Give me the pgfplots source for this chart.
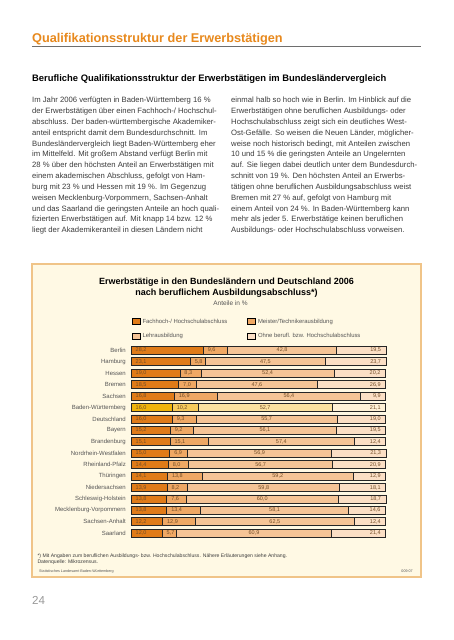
\documentclass[border=0pt]{standalone}
\usepackage{pgfplots}
\pgfplotsset{compat=1.18}
\usepackage{pgfplotstable}
\usepackage{fontspec}
\setmainfont{Liberation Sans}

\definecolor{orangeT}{RGB}{232,137,29}
\definecolor{cA}{RGB}{224,123,24}
\definecolor{cB}{RGB}{239,168,100}
\definecolor{cC}{RGB}{245,196,150}
\definecolor{cD}{RGB}{251,223,197}
\definecolor{yA}{RGB}{240,180,10}
\definecolor{yB}{RGB}{246,203,92}
\definecolor{yC}{RGB}{252,226,160}
\definecolor{yD}{RGB}{254,241,214}
\definecolor{boxbg}{RGB}{255,249,228}
\definecolor{boxline}{RGB}{240,196,136}
\definecolor{txt}{RGB}{60,60,60}
\definecolor{lab}{RGB}{85,85,85}
\definecolor{val}{RGB}{115,78,40}
\definecolor{rule}{RGB}{110,110,110}

\pgfplotstableread{
y a b c d
0 28.2 9.6 42.8 19.5
1 23.1 5.8 47.5 23.7
2 19.0 8.3 52.4 20.2
3 18.5 7.0 47.6 26.9
4 16.8 16.9 56.4 9.9
5 16.0 10.2 52.7 21.1
6 16.0 9.3 55.7 19.0
7 15.2 9.2 56.1 19.5
8 15.1 15.1 57.4 12.4
9 15.0 6.9 56.9 21.3
10 14.4 8.0 56.7 20.9
11 14.1 13.8 59.2 12.9
12 13.9 8.2 59.8 18.1
13 13.8 7.6 60.0 18.7
14 13.8 13.4 58.1 14.6
15 12.2 12.9 62.5 12.4
16 12.0 5.7 60.9 21.4
}\data

\pgfplotsset{chartax/.style={
  scale only axis, width=254pt, height=194.4pt,
  at={(131.7pt,-344.6pt)}, anchor=north west,
  xmin=0, xmax=100, ymin=-0.5, ymax=16.5, y dir=reverse,
  axis line style={draw=none}, tick style={draw=none},
  xtick=\empty, ytick=\empty, clip=false,
  /pgf/number format/.cd, use comma, fixed, fixed zerofill, precision=1, assume math mode=true,
}}
\pgfplotsset{barsty/.style={draw=black!85, line width=0.8pt}}
\pgfplotsset{valsty/.style={draw=none, mark=none,
  every node near coord/.append style={anchor=center, inner sep=0pt, font=\fontsize{5.5}{6}\selectfont, text=val}}}

\newcommand{\bodyfont}{\fontsize{7.7}{9}\selectfont}

\begin{document}
\begin{tikzpicture}
\fill[white] (0pt,0pt) rectangle (453pt,-640pt);
\useasboundingbox (0pt,0pt) rectangle (453pt,-640pt);

% page title
\node[anchor=base west, inner sep=0pt, font=\fontsize{12.7}{14}\selectfont\bfseries, text=orangeT] at (32pt,-42.8pt) {Qualifikationsstruktur der Erwerbstätigen};
\draw[rule, line width=1.3pt] (32pt,-46.7pt) -- (421pt,-46.7pt);
\node[anchor=base west, inner sep=0pt, font=\fontsize{9.4}{11}\selectfont\bfseries, text=black] at (32pt,-81.7pt) {Berufliche Qualifikationsstruktur der Erwerbstätigen im Bundesländervergleich};

% body text
\foreach \t [count=\i from 0] in {
{Im Jahr 2006 verfügten in Baden-Württemberg 16 \%},
{der Erwerbstätigen über einen Fachhoch-/ Hochschul-},
{abschluss. Der baden-württembergische Akademiker-},
{anteil entspricht damit dem Bundesdurchschnitt. Im},
{Bundesländervergleich liegt Baden-Württemberg eher},
{im Mittelfeld. Mit großem Abstand verfügt Berlin mit},
{28 \% über den höchsten Anteil an Erwerbstätigen mit},
{einem akademischen Abschluss, gefolgt von Ham-},
{burg mit 23 \% und Hessen mit 19 \%. Im Gegenzug},
{weisen Mecklenburg-Vorpommern, Sachsen-Anhalt},
{und das Saarland die geringsten Anteile an hoch quali-},
{fizierten Erwerbstätigen auf. Mit knapp 14 bzw. 12 \%},
{liegt der Akademikeranteil in diesen Ländern nicht}}{
  \pgfmathsetmacro\yy{-102.8-10.833*\i}
  \node[anchor=base west, inner sep=0pt, font=\bodyfont, text=txt] at (32pt,\yy pt) {\t};
}
\foreach \t [count=\i from 0] in {
{einmal halb so hoch wie in Berlin. Im Hinblick auf die},
{Erwerbstätigen ohne beruflichen Ausbildungs- oder},
{Hochschulabschluss zeigt sich ein deutliches West-},
{Ost-Gefälle. So weisen die Neuen Länder, möglicher-},
{weise noch historisch bedingt, mit Anteilen zwischen},
{10 und 15 \% die geringsten Anteile an Ungelernten},
{auf. Sie liegen dabei deutlich unter dem Bundesdurch-},
{schnitt von 19 \%. Den höchsten Anteil an Erwerbs-},
{tätigen ohne beruflichen Ausbildungsabschluss weist},
{Bremen mit 27 \% auf, gefolgt von Hamburg mit},
{einem Anteil von 24 \%. In Baden-Württemberg kann},
{mehr als jeder 5. Erwerbstätige keinen beruflichen},
{Ausbildungs- oder Hochschulabschluss vorweisen.}}{
  \pgfmathsetmacro\yy{-102.8-10.833*\i}
  \node[anchor=base west, inner sep=0pt, font=\bodyfont, text=txt] at (231pt,\yy pt) {\t};
}

% chart box
\filldraw[fill=boxbg, draw=boxline, line width=1.2pt] (32pt,-264pt) rectangle (421pt,-577pt);
\node[anchor=base, inner sep=0pt, font=\fontsize{9}{10}\selectfont\bfseries, text=black] at (226.5pt,-284.9pt) {Erwerbstätige in den Bundesländern und Deutschland 2006};
\node[anchor=base, inner sep=0pt, font=\fontsize{9}{10}\selectfont\bfseries, text=black] at (226.5pt,-295.9pt) {nach beruflichem Ausbildungsabschluss*)};
\node[anchor=base, inner sep=0pt, font=\fontsize{6.5}{7}\selectfont, text=lab] at (230.5pt,-305.6pt) {Anteile in \%};

% main bars
\begin{axis}[chartax, xbar stacked, bar width=8pt,
  ytick={0,...,16},
  yticklabels={Berlin,Hamburg,Hessen,Bremen,Sachsen,Baden-Württemberg,Deutschland,Bayern,Brandenburg,Nordrhein-Westfalen,Rheinland-Pfalz,Thüringen,Niedersachsen,Schleswig-Holstein,Mecklenburg-Vorpommern,Sachsen-Anhalt,Saarland},
  yticklabel style={font=\fontsize{6}{7}\selectfont, text=lab, inner sep=0pt, anchor=east, xshift=-5.7pt},
  legend columns=2,
  legend cell align=left,
  legend style={at={(0,1)}, anchor=south west, xshift=0pt, yshift=3pt, draw=none, fill=none, inner sep=0pt,
    font=\fontsize{5.9}{7}\selectfont, text=lab, row sep=5pt,
    /tikz/every even column/.append style={column sep=18pt}},
  legend image code/.code={\draw[#1, draw=black, line width=0.6pt] (0pt,-3pt) rectangle (8pt,3pt);},
]
\addplot[barsty, fill=cA] table[x=a, y=y]{\data};
\addlegendentry{Fachhoch-/ Hochschulabschluss}
\addplot[barsty, fill=cB] table[x=b, y=y]{\data};
\addlegendentry{Meister/Technikerausbildung}
\addplot[barsty, fill=cC] table[x=c, y=y]{\data};
\addlegendentry{Lehrausbildung}
\addplot[barsty, fill=cD] table[x=d, y=y]{\data};
\addlegendentry{ Ohne berufl. bzw. Hochschulabschluss}
\end{axis}

% highlighted Baden-Wuerttemberg row
\begin{axis}[chartax, xbar stacked, bar width=8pt, restrict y to domain=4.5:5.5]
\addplot[barsty, fill=yA] table[x=a, y=y]{\data};
\addplot[barsty, fill=yB] table[x=b, y=y]{\data};
\addplot[barsty, fill=yC] table[x=c, y=y]{\data};
\addplot[barsty, fill=yD] table[x=d, y=y]{\data};
\end{axis}

% value labels
\begin{axis}[chartax]
\addplot[valsty, nodes near coords={\makebox[0pt][l]{\pgfmathprintnumber{\pgfplotspointmeta}}},
  point meta=\thisrow{a}, every node near coord/.append style={xshift=4pt}]
  table[x expr=0, y=y]{\data};
\addplot[valsty, nodes near coords={\makebox[0pt][l]{\pgfmathprintnumber{\pgfplotspointmeta}}},
  point meta=\thisrow{b}, every node near coord/.append style={xshift=4.5pt}]
  table[x expr=\thisrow{a}, y=y]{\data};
\addplot[valsty, nodes near coords={\makebox[0pt][c]{\pgfmathprintnumber{\pgfplotspointmeta}}},
  point meta=\thisrow{c}]
  table[x expr=\thisrow{a}+\thisrow{b}+0.5*\thisrow{c}, y=y]{\data};
\addplot[valsty, nodes near coords={\makebox[0pt][r]{\pgfmathprintnumber{\pgfplotspointmeta}}},
  point meta=\thisrow{d}, every node near coord/.append style={xshift=-5pt}]
  table[x expr=\thisrow{a}+\thisrow{b}+\thisrow{c}+\thisrow{d}, y=y]{\data};
\end{axis}

% footnotes
\node[anchor=base west, inner sep=0pt, font=\fontsize{5.1}{6}\selectfont, text=txt] at (37.3pt,-557.8pt) {*) Mit Angaben zum beruflichen Ausbildungs- bzw. Hochschulabschluss. Nähere Erläuterungen siehe Anhang.};
\node[anchor=base west, inner sep=0pt, font=\fontsize{5.1}{6}\selectfont, text=txt] at (37.3pt,-563.8pt) {Datenquelle: Mikrozensus.};
\node[anchor=base west, inner sep=0pt, font=\fontsize{3.7}{4}\selectfont, text=lab] at (39pt,-572.3pt) {Statistisches Landesamt Baden-Württemberg};
\node[anchor=base east, inner sep=0pt, font=\fontsize{3.7}{4}\selectfont, text=lab] at (413pt,-572.3pt) {009 07};

% page number
\node[anchor=base west, inner sep=0pt, font=\fontsize{11.6}{13}\selectfont, text=black!40] at (32pt,-604.2pt) {24};
\end{tikzpicture}
\end{document}
